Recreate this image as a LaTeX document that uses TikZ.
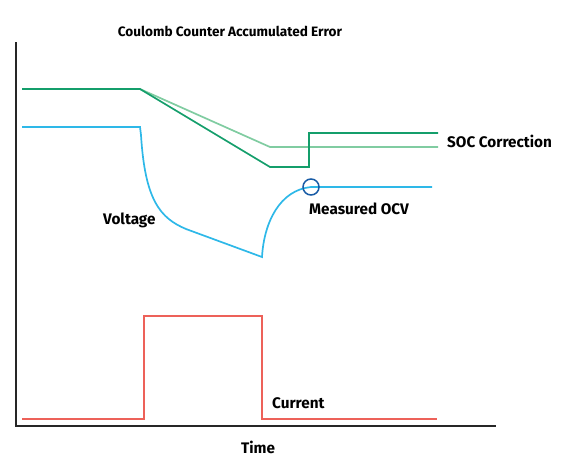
\documentclass[tikz,border=0pt]{standalone}
\usepackage{fontspec}
\setmainfont{Fira Sans}
\usepackage{tikz}
\usetikzlibrary{positioning}
\definecolor{mgreen}{rgb}{0.08, 0.62, 0.42}
\definecolor{mlgreen}{rgb}{0.50, 0.80, 0.63}
\definecolor{mblue}{rgb}{0.18, 0.72, 0.91}
\definecolor{mdblue}{rgb}{0.10, 0.36, 0.65}
\definecolor{mred}{rgb}{0.93, 0.38, 0.35}
\tikzset{lbl/.style = {font=\bfseries\fontsize{15.3}{18}\selectfont, inner sep=0}}
\tikzset{trace/.style = {line width=1.7pt}}

\begin{document}
\begin{tikzpicture}[x=1pt, y=-1pt]
    \useasboundingbox (0, 0) rectangle (581, 459);

    \draw [line width=1.5pt, black!85] (16, 42) -- (16, 426) -- (496, 426);

    \draw [trace, mlgreen] (140, 89) -- (270, 147) -- (438, 147);
    \draw [trace, mgreen] (22, 89) -- (140, 89) -- (270, 167) -- (309, 167) -- (309, 133) -- (438, 133);

    \draw [trace, mblue] (22, 127) -- (140, 127) -- (141, 135)
      .. controls (145, 200) and (160, 218) .. (186, 229) -- (262, 257)
      .. controls (264, 222) and (280, 190) .. (311, 187) -- (432, 187);
    \node [circle, draw=mdblue, line width=1.5pt, minimum size=16, inner sep=0] (ocv) at (311, 187) {};

    \draw [trace, mred] (22, 419) -- (144, 419) -- (144, 316) -- (262, 316) -- (262, 419) -- (437, 419);

    \node [lbl, font=\bfseries\fontsize{13.6}{16}\selectfont, anchor=base] (title) at (230, 36) {Coulomb Counter Accumulated Error};
    \node [lbl, anchor=base west] (soc) at (447, 147) {SOC Correction};
    \node [lbl, anchor=base west] (meas) at (309, 214) {Measured OCV};
    \node [lbl, anchor=base west] (volt) at (103, 224) {Voltage};
    \node [lbl, anchor=base west] (curr) at (272, 408) {Current};
    \node [lbl, anchor=base] (time) at (258, 453) {Time};
  \end{tikzpicture}
\end{document}
